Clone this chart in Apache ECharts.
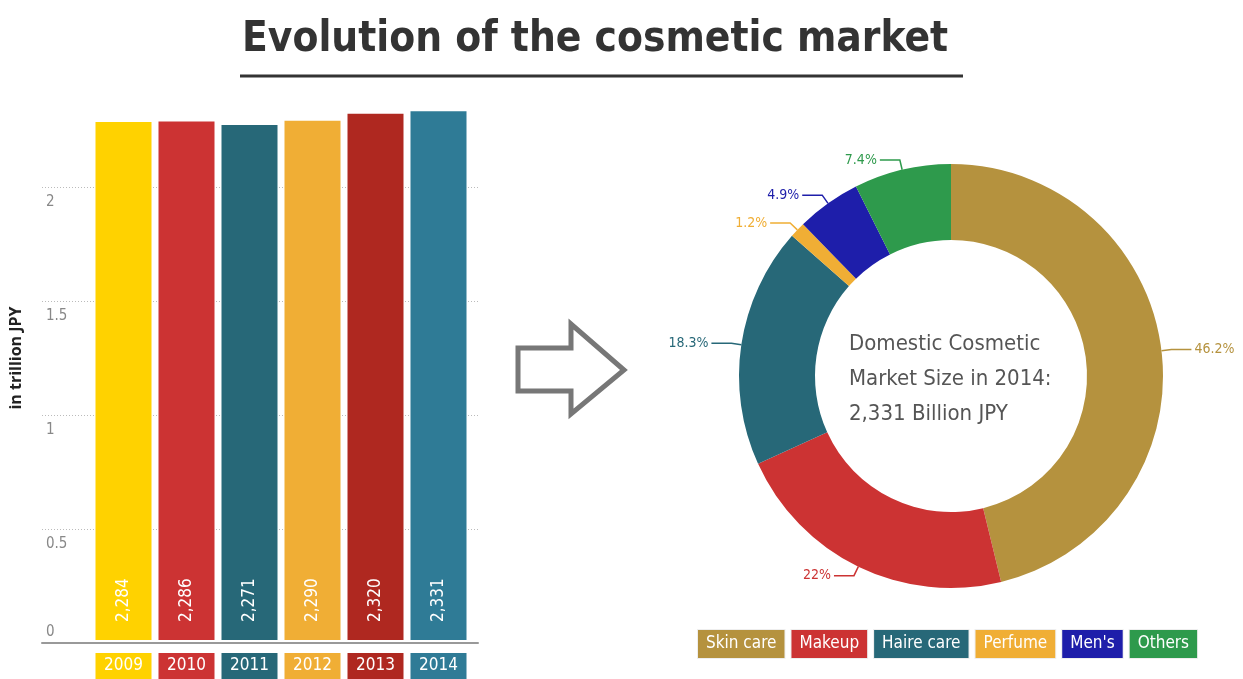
<!DOCTYPE html>
<html>
<head>
<meta charset="utf-8">
<script src="https://cdn.jsdelivr.net/npm/echarts@6/dist/echarts.min.js"></script>
<style>
  html, body { margin: 0; padding: 0; background: #fff; }
  #chart { width: 1243px; height: 679px; }
</style>
</head>
<body>
<div id="chart"></div>
<script>
// market size by year, in billion JPY (axis is in trillion)
const years = ['2009', '2010', '2011', '2012', '2013', '2014']
const marketBillions = [2284, 2286, 2271, 2290, 2320, 2331]

// 2014 breakdown
const segments = ['Skin care', 'Makeup', 'Haire care', 'Perfume', "Men's", 'Others']
const shares = [46.2, 22, 18.3, 1.2, 4.9, 7.4]

const centerText = ['Domestic Cosmetic', 'Market Size in 2014:', '2,331 Billion JPY']

const barColors = ['#ffd200', '#cc3333', '#276878', '#f0ae35', '#af2820', '#2f7b96']
const segColors = ['#b5923e', '#cc3333', '#276878', '#f0ae35', '#1e1eaa', '#2e9a4c']

const NARROW = '"Liberation Sans Narrow", "DejaVu Sans Condensed", sans-serif'

const fmt = (n) => n.toLocaleString('en-US')

const chart = echarts.init(document.getElementById('chart'))

const yearRich = {}
barColors.forEach((c, i) => {
  yearRich['y' + i] = {
    backgroundColor: c, color: '#fff', width: 56, height: 26, lineHeight: 28,
    align: 'center', fontSize: 17, fontFamily: NARROW
  }
})

chart.setOption({
  animation: false,
  title: [
    {
      text: 'Evolution of the cosmetic market',
      left: 237, top: 14,
      textStyle: { fontFamily: NARROW, fontWeight: 'bold', fontSize: 42, color: '#333' }
    },
    {
      text: centerText.join('\n'),
      left: 844, top: 322,
      textStyle: { fontFamily: NARROW, fontWeight: 'normal', fontSize: 22, lineHeight: 35, color: '#555' }
    }
  ],
  graphic: [
    { type: 'line', shape: { x1: 240, y1: 76, x2: 963, y2: 76 }, style: { stroke: '#333', lineWidth: 3 } },
    {
      type: 'polygon',
      shape: { points: [[518, 348], [571, 348], [571, 324], [624, 370], [571, 414], [571, 391], [518, 391]] },
      style: { fill: 'none', stroke: '#777', lineWidth: 5, lineJoin: 'miter' }
    }
  ],
  legend: {
    left: 688, top: 624,
    icon: 'none', itemWidth: 0, itemHeight: 0, itemGap: 1,
    selectedMode: false,
    data: segments.map((name, i) => ({
      name,
      textStyle: {
        backgroundColor: segColors[i], color: '#fff', fontFamily: NARROW, fontSize: 17,
        padding: [6, 8, 5, 8], borderColor: '#eee', borderWidth: 1
      }
    }))
  },
  grid: [
    { left: 42, right: 765, top: 73, bottom: 36 },
    { left: 92, right: 773, top: 73, bottom: 36 }
  ],
  xAxis: [
    {
      gridIndex: 0, type: 'category', data: years,
      axisLine: { lineStyle: { color: '#999', width: 2 } },
      axisTick: { show: false }, axisLabel: { show: false }
    },
    {
      gridIndex: 1, type: 'category', data: years,
      axisLine: { show: false }, axisTick: { show: false },
      axisLabel: {
        margin: 12, interval: 0,
        formatter: (v, i) => `{y${i}|${v}}`,
        rich: yearRich
      }
    }
  ],
  yAxis: [
    {
      gridIndex: 0, type: 'value', min: 0, max: 2.5, interval: 0.5,
      name: 'in trillion JPY', nameLocation: 'middle', nameGap: 18,
      nameTextStyle: { fontFamily: '"Open Sans", sans-serif', fontWeight: 'bold', fontSize: 16, color: '#222' },
      axisLine: { show: false }, axisTick: { show: false },
      axisLabel: {
        inside: true, margin: 4, showMaxLabel: false,
        formatter: (v) => (v === 0 ? `{z|0}` : `{n|${v}}`),
        rich: {
          n: { color: '#888', fontSize: 15, fontFamily: NARROW, padding: [30, 0, 0, 0] },
          z: { color: '#888', fontSize: 15, fontFamily: NARROW, padding: [0, 0, 22, 0] }
        }
      },
      splitLine: { showMaxLine: false, lineStyle: { color: '#bbb', type: [1, 2], width: 1 } }
    },
    {
      gridIndex: 1, type: 'value', min: 0, max: 2.5, interval: 0.5, show: false
    }
  ],
  series: [
    {
      type: 'bar', xAxisIndex: 1, yAxisIndex: 1,
      barWidth: 56,
      data: marketBillions.map((b, i) => ({ value: b / 1000, itemStyle: { color: barColors[i] } })),
      label: {
        show: true, position: 'insideBottom', distance: 18, rotate: 90,
        align: 'left', verticalAlign: 'middle',
        color: '#fff', fontSize: 17, fontFamily: NARROW,
        formatter: (p) => fmt(marketBillions[p.dataIndex])
      }
    },
    {
      type: 'pie',
      center: [951, 376], radius: [136, 212],
      startAngle: 90, clockwise: true,
      data: segments.map((name, i) => ({
        name, value: shares[i],
        itemStyle: { color: segColors[i] },
        label: { color: segColors[i] },
        labelLine: { lineStyle: { color: segColors[i] } }
      })),
      label: { formatter: '{c}%', fontFamily: NARROW, fontSize: 14, distanceToLabelLine: 3, overflow: 'none' },
      labelLine: { length: 10, length2: 20, lineStyle: { width: 1.5 } }
    }
  ]
})
</script>
</body>
</html>
